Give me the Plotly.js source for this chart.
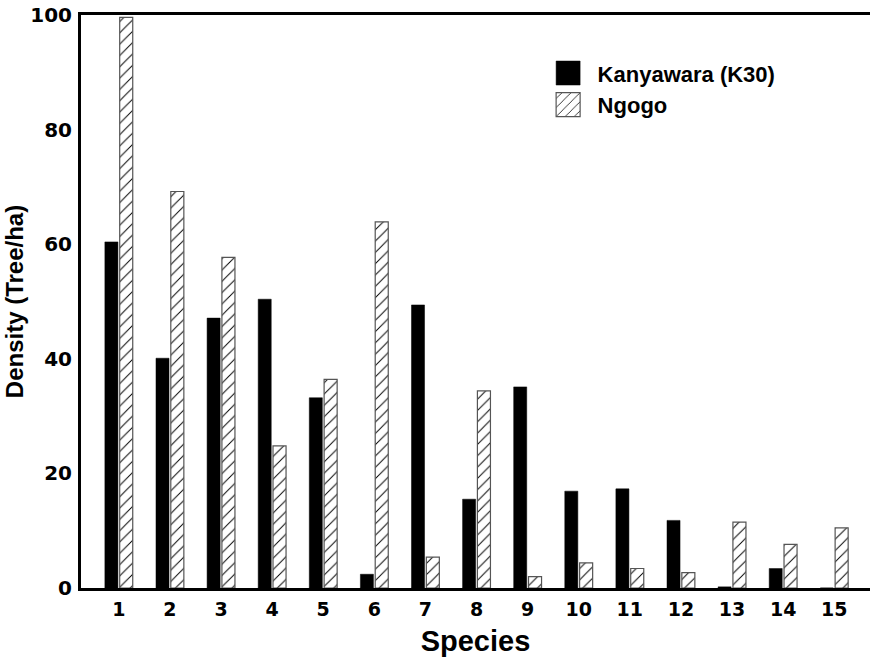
<!DOCTYPE html>
<html>
<head>
<meta charset="utf-8">
<script src="https://cdn.plot.ly/plotly-3.0.1.min.js"></script>
<style>body{margin:0;background:#fff}#chart{width:870px;height:663px}</style>
</head>
<body>
<div id="chart"></div>
<script>
const species = [1,2,3,4,5,6,7,8,9,10,11,12,13,14,15];
const kanyawara = [60.4,40.1,47.1,50.4,33.2,2.4,49.4,15.5,35.1,16.9,17.3,11.8,0.2,3.4,0];
const ngogo = [99.6,69.2,57.7,24.8,36.4,63.9,5.4,34.4,2.0,4.4,3.4,2.7,11.5,7.6,10.5];
const yTicks = [0,20,40,60,80,100];

const traces = [
  {type:'bar', name:'Kanyawara (K30)', x:species, y:kanyawara,
   marker:{color:'#000', line:{color:'#000', width:0.5}}},
  {type:'bar', name:'Ngogo', x:species, y:ngogo,
   marker:{color:'#fff', line:{color:'#555', width:1.2},
     pattern:{shape:'/', fgcolor:'#000', bgcolor:'#fff', size:8, solidity:0.12}}}
];

const layout = {
  width:870, height:663,
  margin:{l:81, r:0, t:15, b:75},
  paper_bgcolor:'#fff', plot_bgcolor:'#fff',
  barmode:'group', bargap:0.42, bargroupgap:0.12,
  showlegend:true,
  legend:{x:0.58, y:0.935, xanchor:'left', yanchor:'top', bgcolor:'rgba(0,0,0,0)',
    font:{family:'Liberation Sans, Arial, sans-serif', size:22, color:'#000', weight:'bold'},
    itemwidth:49, tracegroupgap:0},
  xaxis:{range:[0.26,15.7], tickvals:species, ticktext:species.map(String),
    showgrid:false, zeroline:false, showline:true, mirror:true, linecolor:'#000', linewidth:3,
    ticks:'', ticklabelstandoff:2,
    tickfont:{family:'DejaVu Sans, sans-serif', size:19, color:'#000', weight:'bold'},
    title:{text:'Species', standoff:12, font:{family:'Liberation Sans, Arial, sans-serif', size:29, color:'#000', weight:'bold'}}},
  yaxis:{range:[0,100], tickvals:yTicks, showgrid:false, zeroline:false, showline:true,
    linecolor:'#000', linewidth:3, ticks:'', ticklabelstandoff:2,
    tickfont:{family:'DejaVu Sans, sans-serif', size:20, color:'#000', weight:'bold'},
    title:{text:'Density (Tree/ha)', standoff:0, font:{family:'Liberation Sans, Arial, sans-serif', size:24, color:'#000', weight:'bold'}}}
};

Plotly.newPlot('chart', traces, layout, {displayModeBar:false, staticPlot:true}).then(function(gd){
  gd.querySelectorAll('.legend .legendpoints path').forEach(function(p){
    p.setAttribute('d','M12,12H-12V-12H12Z');
  });
});
</script>
</body>
</html>
